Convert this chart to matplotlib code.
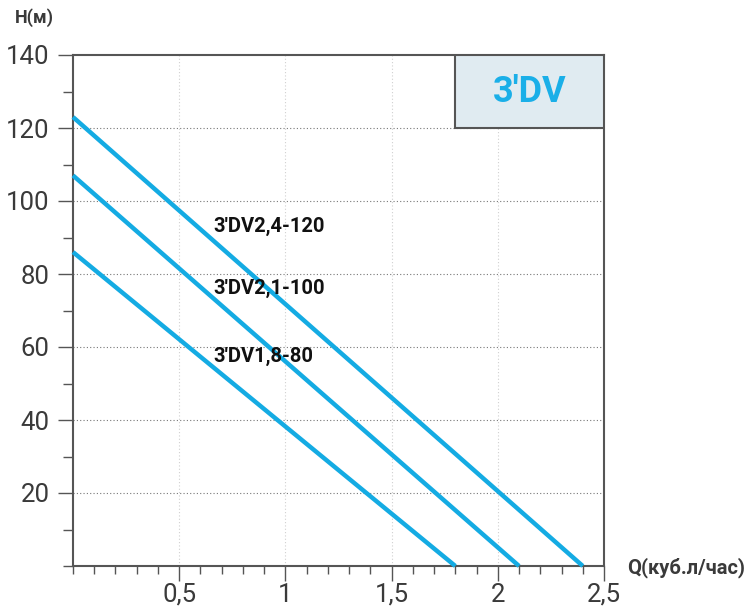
import matplotlib
matplotlib.use("Agg")
import matplotlib.pyplot as plt
from matplotlib.patches import Rectangle
from matplotlib.ticker import MultipleLocator, FixedLocator

# pump curves: flow Q (m3/h) vs head H (m)
q_max = [2.4, 2.1, 1.8]
h_max = [123, 107, 86]
names = ["3'DV2,4-120", "3'DV2,1-100", "3'DV1,8-80"]
label_x = [0.66, 0.66, 0.66]
label_y = [93, 76, 57.5]

x_ticks = [0.5, 1, 1.5, 2, 2.5]
x_labels = ["0,5", "1", "1,5", "2", "2,5"]
y_ticks = [20, 40, 60, 80, 100, 120, 140]

line_color = "#14ABE3"
axis_color = "#555555"

plt.rcParams["font.family"] = ["Roboto", "DejaVu Sans"]

fig = plt.figure(figsize=(7.49, 6.07), dpi=100)
ax = fig.add_axes([73 / 749, 41 / 607, 531 / 749, 511 / 607])
ax.set_xlim(0, 2.5)
ax.set_ylim(0, 140)

for qm, hm in zip(q_max, h_max):
    ax.plot([0, qm], [hm, 0], color=line_color, lw=3.2, solid_capstyle="butt",
            clip_on=False, zorder=3)

for nm, lx, ly in zip(names, label_x, label_y):
    ax.text(lx, ly, nm, fontsize=14.5, fontweight="bold", color="#111111",
            ha="left", va="center", zorder=4)

# grid
for yv in y_ticks[:-1]:
    ax.axhline(yv, color="#777777", lw=0.8, ls=(0, (1, 2)), zorder=1)
for xv in x_ticks[:-1]:
    ax.axvline(xv, color="#d0d0d0", lw=0.8, ls=(0, (1, 2)), zorder=1)

# title box
ax.add_patch(Rectangle((1.8, 120), 0.7, 20, facecolor="#E0EBF1",
                       edgecolor=axis_color, lw=1.5, zorder=5))
ax.text(2.15, 130, "3'DV", fontsize=26, fontweight="bold", color="#1AAFE8",
        ha="center", va="center", zorder=6)

ax.xaxis.set_major_locator(FixedLocator(x_ticks))
ax.set_xticklabels(x_labels)
ax.xaxis.set_minor_locator(MultipleLocator(0.1))
ax.yaxis.set_major_locator(FixedLocator(y_ticks))
ax.yaxis.set_minor_locator(MultipleLocator(10))

ax.tick_params(axis="x", which="major", length=11, width=1, color=axis_color,
               labelsize=18.5, labelcolor="#3a3a3a", pad=1)
ax.tick_params(axis="x", which="minor", length=6, width=1, color=axis_color)
ax.tick_params(axis="y", which="major", length=11, width=1, color=axis_color,
               labelsize=18.5, labelcolor="#3a3a3a", pad=6)
ax.tick_params(axis="y", which="minor", length=7, width=1, color=axis_color)

for sp in ax.spines.values():
    sp.set_color(axis_color)
    sp.set_linewidth(1.5)

fig.text(15 / 749, 1 - 18 / 607, "H(м)", fontsize=13, fontweight="bold",
         color="#3a3a3a", ha="left", va="center")
fig.text(745 / 749, 1 - 568 / 607, "Q(куб.л/час)", fontsize=14.5, fontweight="bold",
         color="#3a3a3a", ha="right", va="center")

fig.savefig("out.png", dpi=100, facecolor="white")
